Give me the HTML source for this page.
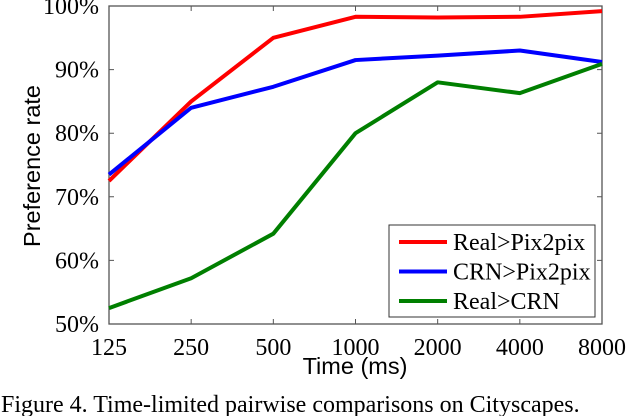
<!DOCTYPE html>
<html><head><meta charset="utf-8"><style>
body{margin:0;background:#fff;width:626px;height:416px;overflow:hidden}
svg{display:block}
.t{font-family:"Liberation Serif",serif;font-size:24px;fill:#000}
.s{font-family:"Liberation Sans",sans-serif;font-size:23.5px;fill:#000}
</style></head><body>
<svg id="c" width="626" height="416"></svg>
<script>
const categories=["125","250","500","1000","2000","4000","8000"];
const yTicks=[50,60,70,80,90,100];
const seriesNames=["Real>Pix2pix","CRN>Pix2pix","Real>CRN"];
const realPix=[72.5,85,95,98.3,98.2,98.3,99.2];
const crnPix=[73.5,84,87.3,91.5,92.2,93,91.2];
const realCrn=[52.5,57.2,64.2,80,88,86.3,90.9];
const colors=["#ff0000","#0000ff","#007f00"];
const L=109,R=602,T=6,B=324;
const x=i=>L+(R-L)*i/(categories.length-1);
const y=v=>B-(v-50)/50*(B-T);
const svg=document.getElementById('c');
const NS="http://www.w3.org/2000/svg";
function mk(tag,attrs,parent){const e=document.createElementNS(NS,tag);for(const k in attrs)e.setAttribute(k,attrs[k]);(parent||svg).appendChild(e);return e;}
let e;
e=mk('rect',{x:L,y:T,width:R-L,height:B-T,fill:'none',stroke:'#555','stroke-width':1.3});


yTicks.forEach(v=>{
  e=mk('path',{d:`M${L},${y(v)}h5M${R},${y(v)}h-5`,stroke:'#555','stroke-width':1});
  
  
  e=mk('text',{x:L-10,y:y(v)+8,'text-anchor':'end',class:'t'});e.textContent=v+'%';
  
  
});
categories.forEach((c,i)=>{
  e=mk('path',{d:`M${x(i)},${B}v-5M${x(i)},${T}v5`,stroke:'#555','stroke-width':1});
  
  
  e=mk('text',{x:x(i),y:B+31,'text-anchor':'middle',class:'t'});e.textContent=c;
  
  
});
[realPix,crnPix,realCrn].forEach((s,k)=>{
  e=mk('polyline',{points:s.map((v,i)=>x(i)+','+y(v)).join(' '),fill:'none',stroke:colors[k],'stroke-width':4,'stroke-linejoin':'round'});
  
  
});
e=mk('rect',{x:389,y:225,width:206,height:92,fill:'#fff',stroke:'#333','stroke-width':1});


seriesNames.forEach((n,k)=>{
  const yy=242+k*29.5;
  e=mk('line',{x1:399,x2:447,y1:yy,y2:yy,stroke:colors[k],'stroke-width':4});
  
  
  e=mk('text',{x:453,y:yy+8,class:'t'});e.textContent=n;
  
  
});
e=mk('text',{x:355,y:374,'text-anchor':'middle',class:'s'});e.textContent='Time (ms)';


e=mk('text',{x:40,y:166,'text-anchor':'middle',class:'s',transform:'rotate(-90 40 166)'});e.textContent='Preference rate';


e=mk('text',{x:1,y:412,class:'t',style:'font-size:24px'});e.textContent='Figure 4. Time-limited pairwise comparisons on Cityscapes.';


</script>
</body></html>
